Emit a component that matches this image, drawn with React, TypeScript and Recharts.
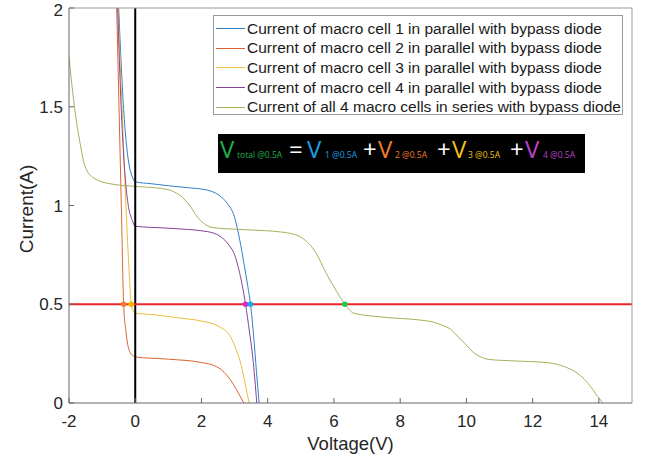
import React from 'react';
import {
  ComposedChart, Line, XAxis, YAxis, ReferenceLine, ReferenceDot, Legend,
} from 'recharts';

// ---- data ----
const xTicks = [-2, 0, 2, 4, 6, 8, 10, 12, 14];
const yTicks = [0, 0.5, 1, 1.5, 2];

const cell1V = [-0.5, -0.42, -0.34, -0.26, -0.18, -0.1, 0, 0.5, 1, 1.6, 2.17, 2.52, 2.78, 3.0, 3.15, 3.3, 3.4, 3.48, 3.58, 3.66, 3.74];
const cell1I = [2.0, 1.7, 1.46, 1.3, 1.2, 1.15, 1.12, 1.11, 1.1, 1.09, 1.078, 1.053, 1.01, 0.94, 0.83, 0.69, 0.59, 0.5, 0.33, 0.16, 0];

const cell2V = [-0.56, -0.49, -0.42, -0.35, -0.28, -0.22, -0.15, -0.05, 0, 1, 2, 2.5, 2.88, 3.05, 3.18, 3.28];
const cell2I = [2.0, 1.5, 1.0, 0.5, 0.36, 0.29, 0.255, 0.238, 0.233, 0.222, 0.205, 0.18, 0.116, 0.07, 0.03, 0];

const cell3V = [-0.52, -0.4, -0.28, -0.18, -0.12, -0.06, 0, 0.5, 1.36, 2, 2.5, 2.88, 3.05, 3.2, 3.33, 3.44];
const cell3I = [2.0, 1.5, 1.0, 0.65, 0.5, 0.465, 0.455, 0.448, 0.43, 0.415, 0.39, 0.335, 0.27, 0.19, 0.09, 0];

const cell4V = [-0.53, -0.45, -0.36, -0.28, -0.2, -0.1, 0, 1, 2.17, 2.58, 2.83, 3.0, 3.15, 3.25, 3.33, 3.45, 3.55, 3.67];
const cell4I = [2.0, 1.6, 1.28, 1.1, 0.99, 0.93, 0.895, 0.885, 0.868, 0.842, 0.8, 0.75, 0.66, 0.58, 0.5, 0.36, 0.23, 0];

const seriesV = [-2, -1.82, -1.67, -1.52, -1.26, -0.76, 0.15, 0.76, 1.16, 1.46, 1.67, 1.87, 2.07, 2.32, 2.88, 3.48, 4.39, 4.7, 5.0, 5.4, 5.82, 6.1, 6.33, 6.6, 7.4, 8.6, 8.94, 9.25, 9.55, 9.75, 9.95, 10.25, 10.45, 10.66, 11.45, 12.46, 12.96, 13.36, 13.67, 13.97, 14.12];
const seriesI = [1.75, 1.48, 1.32, 1.2, 1.14, 1.11, 1.095, 1.087, 1.07, 1.036, 0.994, 0.943, 0.91, 0.889, 0.881, 0.876, 0.866, 0.858, 0.84, 0.775, 0.64, 0.56, 0.5, 0.455, 0.436, 0.42, 0.412, 0.395, 0.37, 0.335, 0.302, 0.251, 0.232, 0.221, 0.213, 0.204, 0.184, 0.15, 0.1, 0.032, 0];

const dotV = [-0.35, -0.12, 3.33, 3.48, 6.33];
const dotI = [0.5, 0.5, 0.5, 0.5, 0.5];
const dotColors = ['#f47c2c', '#ffb400', '#c832c8', '#1ea8f0', '#22c84a'];

const seriesNames = [
  'Current of macro cell 1 in parallel with bypass diode',
  'Current of macro cell 2 in parallel with bypass diode',
  'Current of macro cell 3 in parallel with bypass diode',
  'Current of macro cell 4 in parallel with bypass diode',
  'Current of all 4 macro cells in series with bypass diode',
];
const seriesColors = ['#2f7fc8', '#dc6430', '#efbc3a', '#84449a', '#a6b158'];

const toPoints = (vs: number[], is: number[]) => vs.map((v, k) => ({ v, i: is[k] }));
const curves = [
  toPoints(cell1V, cell1I),
  toPoints(cell2V, cell2I),
  toPoints(cell3V, cell3I),
  toPoints(cell4V, cell4I),
  toPoints(seriesV, seriesI),
];

const FONT = '"Liberation Sans", Arial, sans-serif';

const LegendBox = () => (
  <div
    style={{
      width: 410,
      height: 100,
      border: '1px solid #9a9a9a',
      background: '#fff',
      paddingTop: 3,
      boxSizing: 'border-box',
      fontFamily: FONT,
      fontSize: 15.5,
      color: '#1a1a1a',
    }}
  >
    {seriesNames.map((n, k) => (
      <div key={n} style={{ display: 'flex', alignItems: 'center', height: 19.6, whiteSpace: 'nowrap' }}>
        <div style={{ width: 29, height: 1, background: seriesColors[k], marginLeft: 2, marginRight: 2 }} />
        <span>{n}</span>
      </div>
    ))}
  </div>
);

const Formula = () => {
  const big = 24;
  const small = 8.5;
  const ff = '"Open Sans", "Noto Sans", sans-serif';
  const oy = 10; // svg padding above the black box
  const base = oy + 24;
  const parts = [
    { x: 2, t: 'V', s: 'total @0.5A', sx: 19, c: '#22b24c' },
    { x: 89, t: 'V', s: '1 @0.5A', sx: 107, c: '#1e9fe6' },
    { x: 160, t: 'V', s: '2 @0.5A', sx: 177, c: '#f07d2c' },
    { x: 234, t: 'V', s: '3 @0.5A', sx: 250, c: '#f2c01e' },
    { x: 307, t: 'V', s: '4 @0.5A', sx: 325, c: '#bb44c8' },
  ];
  const ops = [{ x: 71, t: '=' }, { x: 145, t: '+' }, { x: 219, t: '+' }, { x: 292, t: '+' }];
  return (
    <svg width={367} height={59} style={{ position: 'absolute', left: 218, top: 134 - oy, overflow: 'visible' }}>
      <rect x={0} y={oy} width={367} height={39} fill="#000" />
      {parts.map((p) => (
        <g key={p.s}>
          <text x={p.x} y={base} fill={p.c} fontFamily={ff} fontSize={big}>{p.t}</text>
          <text x={p.sx} y={base} fill={p.c} fontFamily={ff} fontSize={small}>{p.s}</text>
        </g>
      ))}
      {ops.map((o, k) => (
        <text key={k} x={o.x} y={base} fill="#fff" fontFamily={ff} fontSize={big}>{o.t}</text>
      ))}
    </svg>
  );
};

export default function App() {
  return (
    <div style={{ position: 'absolute', left: 0, top: 0, width: 648, height: 459, background: '#fff' }}>
      <ComposedChart width={648} height={459} margin={{ top: 7, right: 15, bottom: 0, left: 0 }}>
        <XAxis
          xAxisId="b"
          dataKey="v"
          type="number"
          domain={[-2, 15]}
          ticks={xTicks}
          allowDataOverflow
          height={56}
          stroke="#666"
          tickSize={-5}
          tickMargin={17}
          tick={{ fill: '#262626', fontSize: 17, fontFamily: FONT }}
          label={{
            content: () => (
              <text x={350.5} y={450} textAnchor="middle" fill="#262626" fontSize={18.5} fontFamily={FONT}>
                Voltage(V)
              </text>
            ),
          }}
        />
        <XAxis
          xAxisId="t"
          orientation="top"
          dataKey="v"
          type="number"
          domain={[-2, 15]}
          ticks={xTicks}
          allowDataOverflow
          height={1}
          stroke="#999"
          tickSize={-5}
          tick={false}
        />
        <YAxis
          yAxisId="l"
          type="number"
          domain={[0, 2]}
          ticks={yTicks}
          allowDataOverflow
          width={69}
          stroke="#666"
          tickSize={-5}
          tickMargin={11}
          tick={{ fill: '#262626', fontSize: 17, fontFamily: FONT }}
          label={{
            content: () => (
              <text
                x={33}
                y={209}
                transform="rotate(-90 33 209)"
                textAnchor="middle"
                fill="#262626"
                fontSize={19}
                fontFamily={FONT}
              >
                Current(A)
              </text>
            ),
          }}
        />
        <YAxis
          yAxisId="r"
          orientation="right"
          type="number"
          domain={[0, 2]}
          ticks={yTicks}
          allowDataOverflow
          width={1}
          stroke="#999"
          tickSize={-5}
          tick={false}
        />
        {curves.map((d, k) => (
          <Line
            key={seriesNames[k]}
            xAxisId="b"
            yAxisId="l"
            data={d}
            dataKey="i"
            name={seriesNames[k]}
            type="monotone"
            stroke={seriesColors[k]}
            strokeWidth={1}
            dot={false}
            activeDot={false}
            isAnimationActive={false}
          />
        ))}
        <ReferenceLine xAxisId="b" yAxisId="l" x={0} stroke="#000" strokeWidth={2} />
        <ReferenceLine xAxisId="b" yAxisId="l" y={0.5} stroke="#e8262a" strokeWidth={2} />
        {dotV.map((v, k) => (
          <ReferenceDot
            key={k}
            xAxisId="b"
            yAxisId="l"
            x={v}
            y={dotI[k]}
            r={2.8}
            fill={dotColors[k]}
            stroke="none"
          />
        ))}
        <Legend
          layout="vertical"
          align="center"
          verticalAlign="middle"
          content={() => <LegendBox />}
          wrapperStyle={{ left: 213, top: 15, width: 410, height: 100 }}
        />
      </ComposedChart>
      <Formula />
    </div>
  );
}
